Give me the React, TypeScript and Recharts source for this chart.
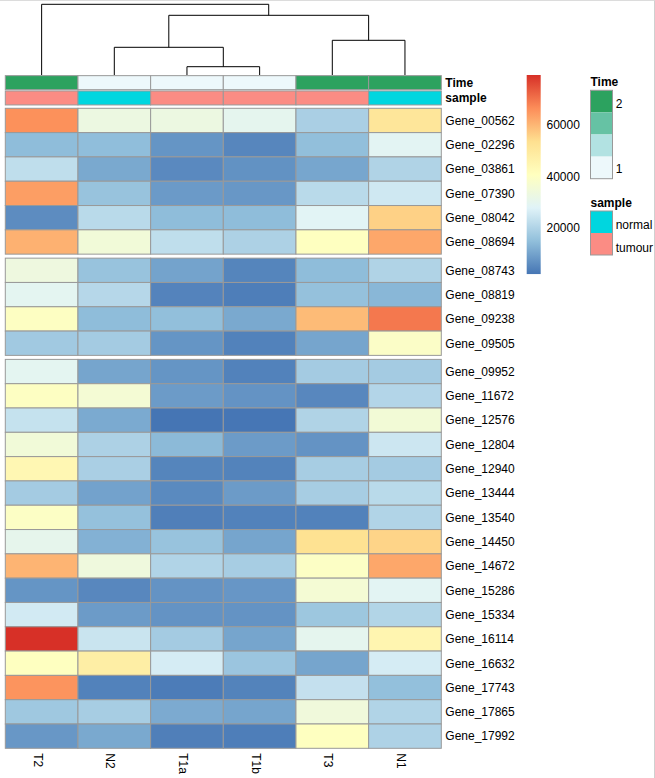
import React from 'react';
import { ScatterChart, Scatter, XAxis, YAxis, BarChart, Bar } from 'recharts';

// ---------- data ----------
const SAMPLES = ['T2', 'N2', 'T1a', 'T1b', 'T3', 'N1'];
const TIME = [2, 1, 1, 1, 2, 2];
const SAMPLE_TYPE = ['tumour', 'normal', 'tumour', 'tumour', 'tumour', 'normal'];
const GENES = [
  'Gene_00562', 'Gene_02296', 'Gene_03861', 'Gene_07390', 'Gene_08042', 'Gene_08694',
  'Gene_08743', 'Gene_08819', 'Gene_09238', 'Gene_09505',
  'Gene_09952', 'Gene_11672', 'Gene_12576', 'Gene_12804', 'Gene_12940', 'Gene_13444',
  'Gene_13540', 'Gene_14450', 'Gene_14672', 'Gene_15286', 'Gene_15334', 'Gene_16114',
  'Gene_16632', 'Gene_17743', 'Gene_17865', 'Gene_17992',
];
const ROW_GROUP_SIZES = [6, 4, 16];

const VAL_T2 = [66000, 14500, 22500, 64000, 6000, 61000, 33500, 29500, 40000, 17500, 29500, 40000, 23500, 35000, 44000, 18000, 39500, 30500, 60500, 7500, 25500, 79500, 40500, 65500, 17200, 7900];
const VAL_N2 = [33000, 14800, 11000, 16000, 21500, 35000, 16000, 21000, 14500, 18000, 10300, 36000, 11200, 19500, 19000, 9800, 15500, 12500, 34000, 5200, 8600, 24000, 48000, 4200, 18500, 11000];
const VAL_T1A = [33000, 7500, 5500, 8500, 14500, 22500, 10000, 4500, 15000, 7500, 7500, 8700, 2000, 14000, 4800, 5600, 3800, 16000, 20200, 7200, 7200, 18000, 26000, 3200, 11300, 3800];
const VAL_T1B = [30000, 5000, 7000, 8000, 14500, 19500, 4800, 3500, 11000, 4200, 4200, 7200, 2200, 8700, 4400, 8600, 4200, 10400, 18500, 7800, 7200, 10300, 16500, 4400, 10400, 3500];
const VAL_T3 = [19000, 15000, 10500, 21500, 28500, 40500, 14500, 15500, 59500, 10300, 18000, 5200, 20000, 7200, 18500, 18500, 4200, 53000, 39500, 36000, 16800, 30000, 10300, 23200, 34500, 40500];
const VAL_N1 = [51000, 29000, 20000, 25000, 56000, 62500, 20000, 13500, 69500, 39000, 18000, 20500, 35500, 24500, 18000, 21500, 20200, 55500, 62500, 29000, 20300, 45000, 26000, 15200, 20200, 19700];
const COLUMNS = [VAL_T2, VAL_N2, VAL_T1A, VAL_T1B, VAL_T3, VAL_N1];

// column dendrogram (hclust style: negative = leaf (1-based column), positive = earlier merge)
const MERGE_LEFT = [-3, -2, -5, 2, -1];
const MERGE_RIGHT = [-4, 1, -6, 3, 4];
const MERGE_HEIGHT = [8.3, 27.7, 34.7, 59.7, 70.7];

const COLOR_MIN = 2000;
const COLOR_MAX = 79500;
const COLOR_TICKS = [20000, 40000, 60000];
const PALETTE = ['#4575B4', '#91BFDB', '#E0F3F8', '#FFFFBF', '#FEE090', '#FC8D59', '#D73027'];

const TIME_LEGEND_COLORS = ['#2CA25F', '#66C2A4', '#B2E2E2', '#EDF8FB'];
const TIME_COLOR: Record<number, string> = { 1: '#EDF8FB', 2: '#2CA25F' };
const SAMPLE_COLOR: Record<string, string> = { normal: '#00D6DF', tumour: '#FB8C84' };

// ---------- layout ----------
const FONT = '"Liberation Sans", Arial, Helvetica, sans-serif';
const PLOT_LEFT = 5.3;
const PLOT_W = 436;
const HM_TOP = 108.3;
const HM_BOTTOM = 748.3;
const GAP_UNITS = 0.165;
const Y_UNITS = GENES.length + GAP_UNITS * (ROW_GROUP_SIZES.length - 1);
const CELL_W = PLOT_W / SAMPLES.length;
const CELL_H = (HM_BOTTOM - HM_TOP) / Y_UNITS;
const BORDER = '#999999';

function hexToRgb(h: string) {
  return [1, 3, 5].map((i) => parseInt(h.slice(i, i + 2), 16));
}
function valueColor(v: number) {
  const t = Math.max(0, Math.min(1, (v - COLOR_MIN) / (COLOR_MAX - COLOR_MIN)));
  const p = t * (PALETTE.length - 1);
  const i = Math.min(PALETTE.length - 2, Math.floor(p));
  const f = p - i;
  const a = hexToRgb(PALETTE[i]);
  const b = hexToRgb(PALETTE[i + 1]);
  const c = a.map((x, k) => Math.round(x + (b[k] - x) * f));
  return `rgb(${c[0]},${c[1]},${c[2]})`;
}

// row positions (units) including group gaps
const rowTop: number[] = [];
{
  let g = 0;
  let idx = 0;
  ROW_GROUP_SIZES.forEach((size, gi) => {
    for (let k = 0; k < size; k++) {
      rowTop.push(idx + gi * GAP_UNITS);
      idx++;
    }
    g++;
  });
}
const rowCenters = rowTop.map((t) => t + 0.5);

const heatData = GENES.flatMap((gene, i) =>
  SAMPLES.map((s, j) => ({ x: j + 0.5, y: rowCenters[i], v: COLUMNS[j][i] }))
);
const annoData = [
  ...SAMPLES.map((s, j) => ({ x: j + 0.5, y: 0.5, c: TIME_COLOR[TIME[j]] })),
  ...SAMPLES.map((s, j) => ({ x: j + 0.5, y: 1.5, c: SAMPLE_COLOR[SAMPLE_TYPE[j]] })),
];
const ANNO_LABELS = ['Time', 'sample'];

// dendrogram segments
const nodeX: number[] = [];
const nodeH: number[] = [];
const childPos = (c: number) => (c < 0 ? { x: -c - 0.5, h: 0 } : { x: nodeX[c - 1], h: nodeH[c - 1] });
const dendroSegments = MERGE_HEIGHT.map((h, m) => {
  const L = childPos(MERGE_LEFT[m]);
  const R = childPos(MERGE_RIGHT[m]);
  nodeX.push((L.x + R.x) / 2);
  nodeH.push(h);
  return [
    { x: L.x, y: L.h },
    { x: L.x, y: h },
    { x: R.x, y: h },
    { x: R.x, y: R.h },
  ];
});

// ---------- shapes / ticks ----------
const HeatCell = (props: any) => {
  const { cx, cy, payload } = props;
  return (
    <rect x={cx - CELL_W / 2} y={cy - CELL_H / 2} width={CELL_W} height={CELL_H}
      fill={valueColor(payload.v)} stroke={BORDER} strokeWidth={1} />
  );
};
const ANNO_PITCH = 15.3;
const AnnoCell = (props: any) => {
  const { cx, cy, payload } = props;
  const h = ANNO_PITCH - 1.3;
  return (
    <rect x={cx - CELL_W / 2} y={cy - h / 2} width={CELL_W} height={h}
      fill={payload.c} stroke={BORDER} strokeWidth={1} />
  );
};
const NoShape = () => <g />;

const GeneTick = (props: any) => {
  const { x, y, payload } = props;
  const idx = rowCenters.findIndex((c) => Math.abs(c - payload.value) < 1e-6);
  return (
    <text x={x} y={y} dy="0.36em" textAnchor="start" fontSize={12} fontFamily={FONT} fill="#000">
      {GENES[idx]}
    </text>
  );
};
const AnnoTick = (props: any) => {
  const { x, y, payload } = props;
  return (
    <text x={x} y={y} dy="0.36em" textAnchor="start" fontSize={12} fontWeight="bold" fontFamily={FONT} fill="#000">
      {ANNO_LABELS[Math.floor(payload.value)]}
    </text>
  );
};
const SampleTick = (props: any) => {
  const { x, y, payload } = props;
  const ax = x - 8;
  return (
    <text x={ax} y={y} transform={`rotate(90, ${ax}, ${y})`} textAnchor="start" fontSize={12} fontFamily={FONT} fill="#000">
      {SAMPLES[Math.floor(payload.value)]}
    </text>
  );
};
const ColorTick = (props: any) => {
  const { x, y, payload } = props;
  return (
    <text x={x} y={y} dy="0.36em" textAnchor="start" fontSize={12} fontFamily={FONT} fill="#000">
      {payload.value}
    </text>
  );
};

const colorBarData = [{ name: 'scale', range: [COLOR_MIN, COLOR_MAX] }];

export default function App() {
  const CHART_W = 540;
  const annoTop = 75;
  return (
    <div style={{
      position: 'absolute', left: 0, top: 0, width: 655, height: 778, overflow: 'hidden',
      background: '#fff', boxSizing: 'border-box', borderTop: '1px solid #dcdcdc', borderRight: '1px solid #d0d0d0',
    }}>
      {/* dendrogram */}
      <div style={{ position: 'absolute', left: 0, top: -1 }}>
        <ScatterChart width={CHART_W} height={80} margin={{ top: 4.3, left: PLOT_LEFT, right: CHART_W - PLOT_LEFT - PLOT_W, bottom: 80 - 75 }}>
          <XAxis type="number" dataKey="x" domain={[0, SAMPLES.length]} hide />
          <YAxis type="number" dataKey="y" domain={[0, MERGE_HEIGHT[MERGE_HEIGHT.length - 1]]} hide />
          {dendroSegments.map((seg, i) => (
            <Scatter key={i} data={seg} line={{ stroke: '#000', strokeWidth: 1 }} lineType="joint"
              shape={NoShape} isAnimationActive={false} />
          ))}
        </ScatterChart>
      </div>
      {/* annotation rows */}
      <div style={{ position: 'absolute', left: 0, top: -1 }}>
        <ScatterChart width={CHART_W} height={110} margin={{ top: annoTop, left: PLOT_LEFT, right: 0, bottom: 110 - annoTop - 2 * ANNO_PITCH }}>
          <XAxis type="number" dataKey="x" domain={[0, SAMPLES.length]} hide />
          <YAxis type="number" dataKey="y" domain={[0, 2]} reversed orientation="right"
            width={CHART_W - PLOT_LEFT - PLOT_W} ticks={[0.5, 1.5]} tick={AnnoTick}
            axisLine={false} tickLine={false} tickSize={0} tickMargin={4} interval={0} />
          <Scatter data={annoData} shape={AnnoCell} isAnimationActive={false} />
        </ScatterChart>
      </div>
      {/* heatmap */}
      <div style={{ position: 'absolute', left: 0, top: -1 }}>
        <ScatterChart width={CHART_W} height={778} margin={{ top: HM_TOP, left: PLOT_LEFT, right: 0, bottom: 0 }}>
          <XAxis type="number" dataKey="x" domain={[0, SAMPLES.length]} ticks={SAMPLES.map((s, j) => j + 0.5)}
            tick={SampleTick} axisLine={false} tickLine={false} tickSize={0} tickMargin={5}
            height={778 - HM_BOTTOM} interval={0} />
          <YAxis type="number" dataKey="y" domain={[0, Y_UNITS]} reversed orientation="right"
            width={CHART_W - PLOT_LEFT - PLOT_W} ticks={rowCenters} tick={GeneTick}
            axisLine={false} tickLine={false} tickSize={0} tickMargin={4} interval={0} />
          <Scatter data={heatData} shape={HeatCell} isAnimationActive={false} />
        </ScatterChart>
      </div>
      {/* colour scale */}
      <div style={{ position: 'absolute', left: 520, top: 59 }}>
        <BarChart width={90} height={230} data={colorBarData} barCategoryGap={0}
          margin={{ top: 15, left: 6.7, right: 0, bottom: 230 - 15 - 199.3 }}>
          <defs>
            <linearGradient id="hmGrad" x1="0" y1="1" x2="0" y2="0">
              {PALETTE.map((c, i) => (
                <stop key={i} offset={`${(i / (PALETTE.length - 1)) * 100}%`} stopColor={c} />
              ))}
            </linearGradient>
          </defs>
          <XAxis type="category" dataKey="name" hide />
          <YAxis type="number" domain={[COLOR_MIN, COLOR_MAX]} orientation="right" width={90 - 6.7 - 14.3}
            ticks={COLOR_TICKS} tick={ColorTick} axisLine={false} tickLine={false} tickSize={0} tickMargin={5.5}
            allowDataOverflow />
          <Bar dataKey="range" fill="url(#hmGrad)" isAnimationActive={false} />
        </BarChart>
      </div>
      {/* annotation legends */}
      <svg width={655} height={300} style={{ position: 'absolute', left: 0, top: -1 }}>
        <g fontFamily={FONT} fontSize={12} fill="#000">
          <text x={590.5} y={81.7} dy="0.36em" fontWeight="bold">Time</text>
          {TIME_LEGEND_COLORS.map((c, i) => (
            <rect key={i} x={590.5} y={90.3 + i * 22.1} width={22} height={22.1} fill={c} />
          ))}
          <rect x={590.5} y={90.3} width={22} height={88.4} fill="none" stroke={BORDER} strokeWidth={1} />
          <text x={615.7} y={103.3} dy="0.36em">2</text>
          <text x={615.7} y={169} dy="0.36em">1</text>
          <text x={590.5} y={202.7} dy="0.36em" fontWeight="bold">sample</text>
          <rect x={590.5} y={211} width={22} height={22} fill={SAMPLE_COLOR.normal} />
          <rect x={590.5} y={233} width={22} height={22} fill={SAMPLE_COLOR.tumour} />
          <rect x={590.5} y={211} width={22} height={44} fill="none" stroke={BORDER} strokeWidth={1} />
          <text x={615.7} y={225} dy="0.36em">normal</text>
          <text x={615.7} y={247.3} dy="0.36em">tumour</text>
        </g>
      </svg>
    </div>
  );
}
